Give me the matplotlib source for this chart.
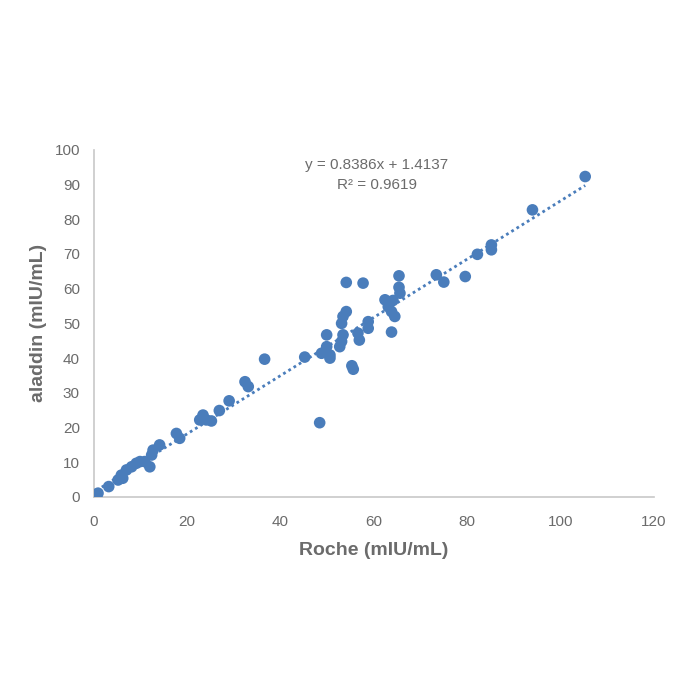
import numpy as np
import matplotlib
matplotlib.use("Agg")
import matplotlib.pyplot as plt

plt.rcParams["font.family"] = ["Liberation Sans", "DejaVu Sans"]

roche = [0.6, 0.9, 3.2, 5.2, 5.9, 6.2, 7.0, 8.1, 9.1, 9.9, 10.9, 12.0, 12.4,
         12.7, 14.1, 17.7, 18.4, 22.7, 23.4, 24.1, 25.2, 26.9, 29.0, 32.4,
         33.1, 36.6, 45.2, 48.4, 48.8, 49.9, 49.9, 50.6, 50.6, 52.7, 53.1,
         53.1, 53.4, 53.4, 54.1, 54.1, 55.3, 55.6, 56.6, 56.9, 57.7, 58.8,
         58.8, 62.4, 63.1, 63.8, 63.8, 64.1, 64.5, 65.4, 65.4, 65.6, 73.4,
         75.0, 79.6, 82.2, 85.2, 85.2, 94.0, 105.3]
aladdin = [0.1, 1.1, 3.0, 4.9, 6.3, 5.4, 7.8, 8.7, 9.7, 10.2, 10.2, 8.7, 12.1,
           13.5, 15.0, 18.3, 16.9, 22.2, 23.6, 22.2, 21.9, 24.9, 27.7, 33.2,
           31.8, 39.7, 40.3, 21.4, 41.4, 46.7, 43.3, 40.9, 40.0, 43.3, 50.0,
           44.8, 52.0, 46.7, 53.4, 61.8, 37.8, 36.8, 47.2, 45.2, 61.6, 50.5,
           48.6, 56.8, 54.8, 53.4, 47.5, 56.6, 52.0, 63.7, 60.4, 58.7, 64.0,
           61.9, 63.5, 69.9, 72.6, 71.2, 82.7, 92.3]

slope = 0.8386
intercept = 1.4137
r_squared = 0.9619

x_ticks = [0, 20, 40, 60, 80, 100, 120]
y_ticks = [0, 10, 20, 30, 40, 50, 60, 70, 80, 90, 100]

point_color = "#4a7dbb"
text_gray = "#6b6b6b"
axis_gray = "#c8c8c8"

fig = plt.figure(figsize=(7, 7), dpi=100)
ax = fig.add_axes([0.134, 0.29, 0.80, 0.496])

ax.scatter(roche, aladdin, s=70, color=point_color, edgecolors="none", zorder=3)

# linear trendline
fit_x = np.array([min(roche), max(roche)])
ax.plot(fit_x, slope * fit_x + intercept, linestyle=(0, (1, 1.2)),
        color=point_color, lw=2, zorder=2)

ax.text(0.505, 0.955, f"y = {slope}x + {intercept}", transform=ax.transAxes,
        ha="center", va="center", fontsize=11, color=text_gray)
ax.text(0.505, 0.898, f"R² = {r_squared}", transform=ax.transAxes,
        ha="center", va="center", fontsize=11, color=text_gray)

ax.set_xlim(0, 120)
ax.set_ylim(0, 100)
ax.set_xticks(x_ticks)
ax.set_yticks(y_ticks)
ax.tick_params(length=0, labelsize=11, colors=text_gray)
ax.tick_params(axis="x", pad=13)
ax.tick_params(axis="y", pad=10)

for side in ("top", "right"):
    ax.spines[side].set_visible(False)
for side in ("left", "bottom"):
    ax.spines[side].set_color(axis_gray)
    ax.spines[side].set_linewidth(1.2)

ax.set_xlabel("Roche (mIU/mL)", fontsize=14, fontweight="bold",
              color=text_gray, labelpad=9)
ax.set_ylabel("aladdin (mIU/mL)", fontsize=14, fontweight="bold",
              color=text_gray, labelpad=5)

fig.savefig("out.png", dpi=100, facecolor="white")
